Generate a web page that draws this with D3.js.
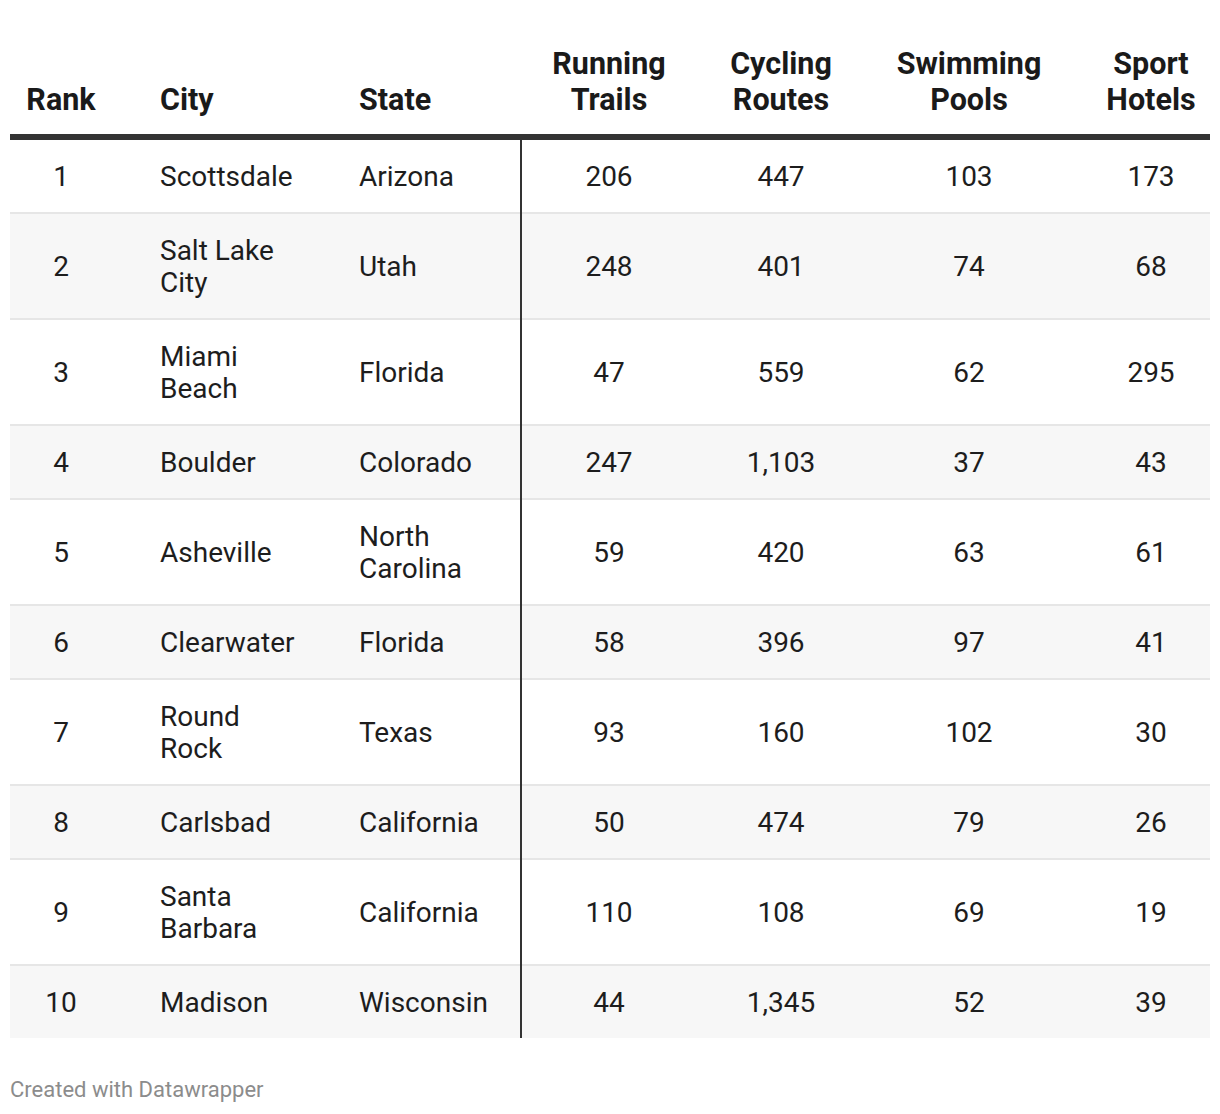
<!DOCTYPE html>
<html>
<head>
<meta charset="utf-8">
<script src="https://cdn.jsdelivr.net/npm/d3@7"></script>
<style>
  html, body { margin: 0; padding: 0; background: #fff; }
  svg { display: block; }
  text { font-family: Roboto, "Noto Sans", sans-serif; }
</style>
</head>
<body>
<svg id="chart" width="1220" height="1114"></svg>
<script>
const headers = [["Rank"], ["City"], ["State"], ["Running", "Trails"], ["Cycling", "Routes"], ["Swimming", "Pools"], ["Sport", "Hotels"]];
const ranks = [1, 2, 3, 4, 5, 6, 7, 8, 9, 10];
const cities = ["Scottsdale", "Salt Lake City", "Miami Beach", "Boulder", "Asheville", "Clearwater", "Round Rock", "Carlsbad", "Santa Barbara", "Madison"];
const states = ["Arizona", "Utah", "Florida", "Colorado", "North Carolina", "Florida", "Texas", "California", "California", "Wisconsin"];
const runningTrails = [206, 248, 47, 247, 59, 58, 93, 50, 110, 44];
const cyclingRoutes = [447, 401, 559, 1103, 420, 396, 160, 474, 108, 1345];
const swimmingPools = [103, 74, 62, 37, 63, 97, 102, 79, 69, 52];
const sportHotels = [173, 68, 295, 43, 61, 41, 30, 26, 19, 39];
const footer = "Created with Datawrapper";

const svg = d3.select("#chart");
const fmt = d3.format(",");
const FS = 28, HFS = 30.5, LH = 32;
const left = 10, right = 1210;

const cols = [
  {x: 61, anchor: "middle"},
  {x: 160, anchor: "start", wrap: 140},
  {x: 359, anchor: "start", wrap: 140},
  {x: 609, anchor: "middle"},
  {x: 781, anchor: "middle"},
  {x: 969, anchor: "middle"},
  {x: 1151, anchor: "middle"}
];

const meas = svg.append("text").attr("font-size", FS).attr("visibility", "hidden");
function wrap(str, maxW) {
  const words = str.split(" ");
  const lines = [];
  let cur = "";
  words.forEach(w => {
    const test = cur ? cur + " " + w : w;
    meas.text(test);
    if (cur && meas.node().getComputedTextLength() > maxW) { lines.push(cur); cur = w; }
    else cur = test;
  });
  if (cur) lines.push(cur);
  return lines;
}

const rows = ranks.map((r, i) => {
  const cells = [
    [String(r)],
    wrap(cities[i], cols[1].wrap),
    wrap(states[i], cols[2].wrap),
    [fmt(runningTrails[i])],
    [fmt(cyclingRoutes[i])],
    [fmt(swimmingPools[i])],
    [fmt(sportHotels[i])]
  ];
  const n = d3.max(cells, c => c.length);
  return {cells, n, h: 40 + LH * n};
});
meas.remove();

// header
const headTop = 134;
const hg = svg.append("g");
headers.forEach((lines, ci) => {
  const t = hg.append("text")
    .attr("text-anchor", cols[ci].anchor)
    .attr("font-size", HFS)
    .attr("font-weight", 700)
    .attr("fill", "#1a1a1a");
  lines.forEach((ln, li) => {
    t.append("tspan").attr("x", cols[ci].x)
      .attr("y", 99 - (lines.length - 1 - li) * 36)
      .attr("dy", "0.355em")
      .text(ln);
  });
});

// rows
let y = 140;
rows.forEach((row, i) => {
  const g = svg.append("g").attr("transform", `translate(0,${y})`);
  g.append("rect").attr("x", left).attr("y", 0).attr("width", right - left).attr("height", row.h)
    .attr("fill", i % 2 === 1 ? "#f7f7f7" : "#ffffff");
  const cy = row.h / 2;
  row.cells.forEach((lines, ci) => {
    const t = g.append("text")
      .attr("text-anchor", cols[ci].anchor)
      .attr("font-size", FS)
      .attr("fill", "#1d1d1d");
    lines.forEach((ln, li) => {
      t.append("tspan").attr("x", cols[ci].x)
        .attr("y", cy + (li - (lines.length - 1) / 2) * LH)
        .attr("dy", "0.355em")
        .text(ln);
    });
  });
  y += row.h;
  if (i < rows.length - 1) {
    svg.append("rect").attr("x", left).attr("y", y).attr("width", right - left).attr("height", 2).attr("fill", "#e6e6e6");
    y += 2;
  }
});
const tableBottom = y;

svg.append("rect").attr("x", left).attr("y", headTop).attr("width", right - left).attr("height", 6).attr("fill", "#333333");
svg.append("rect").attr("x", 520).attr("y", 140).attr("width", 2).attr("height", tableBottom - 140).attr("fill", "#333333");

svg.append("text").attr("x", left).attr("y", 1097)
  .attr("font-size", 22).attr("fill", "#8c8c8c").text(footer);
</script>
</body>
</html>
